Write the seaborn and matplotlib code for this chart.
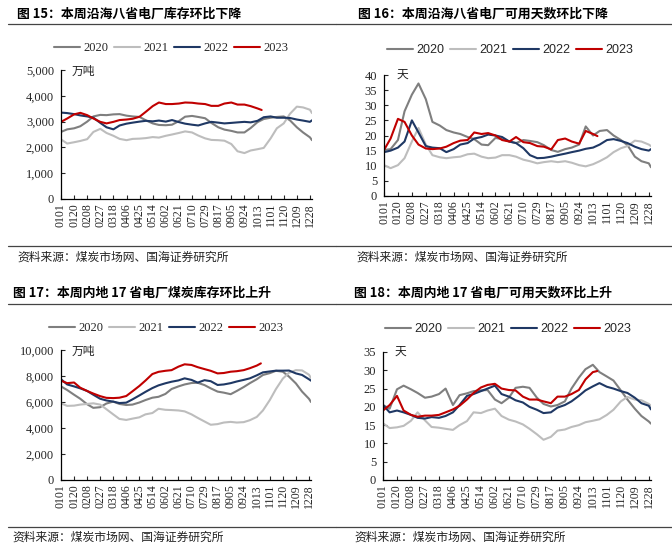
import seaborn as sns
import pandas as pd
import matplotlib.pyplot as plt
from matplotlib.lines import Line2D
from matplotlib.ticker import StrMethodFormatter

# sample dates (MMDD), roughly every 9-10 days
dates = ["0101", "0110", "0120", "0129", "0208", "0217", "0227", "0308", "0318", "0327",
         "0406", "0415", "0425", "0504", "0514", "0523", "0602", "0611", "0621", "0630",
         "0710", "0719", "0729", "0807", "0817", "0826", "0905", "0914", "0924", "1003",
         "1013", "1022", "1101", "1110", "1120", "1129", "1209", "1218", "1228", "1231"]
dates_2023 = dates[:31] + ["1019"]
tick_dates = ["0101", "0120", "0208", "0227", "0318", "0406", "0425", "0514", "0602", "0621",
              "0710", "0729", "0817", "0905", "0924", "1013", "1101", "1120", "1209", "1228"]
years = ["2020", "2021", "2022", "2023"]
colors = ["#7f7f7f", "#bdbdbd", "#1f3864", "#c00000"]

# 图15 沿海八省电厂库存 (万吨)
s15_2020 = [2600, 2700, 2740, 2820, 3000, 3200, 3260, 3250, 3280, 3290, 3230, 3200, 3180, 3050,
            2930, 2870, 2860, 2880, 3020, 3190, 3220, 3180, 3130, 2950, 2780, 2690, 2640, 2580,
            2580, 2750, 2980, 3100, 3150, 3180, 3200, 3050, 2780, 2580, 2390, 2280]
s15_2021 = [2310, 2150, 2200, 2250, 2320, 2600, 2720, 2560, 2450, 2330, 2280, 2330, 2340, 2360,
            2400, 2380, 2450, 2500, 2560, 2620, 2580, 2460, 2350, 2290, 2280, 2260, 2130, 1850,
            1780, 1880, 1930, 1980, 2350, 2740, 2930, 3300, 3580, 3550, 3460, 3330]
s15_2022 = [3350, 3330, 3290, 3240, 3200, 3150, 2950, 2780, 2700, 2850, 2920, 2960, 3000, 3030,
            3010, 3040, 3000, 3060, 2980, 2920, 2880, 2850, 2930, 2990, 2960, 2930, 2950, 2970,
            2990, 2970, 3030, 3170, 3200, 3150, 3150, 3140, 3080, 3040, 2990, 3050]
s15_2023 = [2990, 3120, 3280, 3340, 3250, 3120, 2990, 2930, 2990, 3060, 3080, 3110, 3190, 3380,
            3600, 3740, 3680, 3680, 3700, 3740, 3730, 3700, 3680, 3610, 3610, 3700, 3740, 3660,
            3660, 3600, 3510, 3450]

# 图16 沿海八省电厂可用天数 (天)
s16_2020 = [15.2, 15.5, 18.5, 28, 33.5, 37.2, 32, 24.5, 23.3, 21.8, 21, 20.5, 19.5, 18.8, 17,
            16.8, 19.2, 18.8, 18, 17.5, 18.5, 18.2, 17.8, 16.8, 15.2, 14.6, 15.5, 16, 17, 23,
            20, 21.5, 21.8, 20, 18.5, 16.8, 13, 11.5, 10.8, 9.5]
s16_2021 = [10.2, 9.2, 10.2, 12.5, 18, 22.5, 17, 13.5, 12.8, 12.5, 12.8, 13, 13.8, 14, 13,
            12.5, 12.7, 13.5, 13.5, 13, 12, 11.5, 10.8, 11.2, 11.5, 11.2, 11.5, 11, 10.2, 9.8,
            10.5, 11.5, 12.8, 14.5, 15.8, 16.5, 18.3, 18, 17, 16.5]
s16_2022 = [14.5, 15, 16, 18, 25, 21, 16.5, 16, 15.8, 14.5, 15.5, 17, 17.5, 19, 19.5, 20.3, 20,
            19.5, 18, 17.5, 15.8, 13.5, 12.5, 12.6, 13, 13.5, 14, 14.5, 15, 15.6, 16, 17, 18.5,
            18.8, 18.2, 17.5, 16.3, 15.5, 15, 15.5]
s16_2023 = [15.2, 19, 25.5, 24.5, 20, 17, 15.7, 15.5, 15.7, 16.3, 17.5, 18.3, 18.5, 21, 20.5,
            20.8, 20, 18.5, 18, 19.5, 17.8, 17.5, 16.5, 16.3, 15.4, 18.5, 19, 18, 17.3, 21.5,
            20.5, 19.8]

# 图17 内地17省电厂煤炭库存 (万吨)
s17_2020 = [7200, 6920, 6560, 6250, 5830, 5550, 5600, 5880, 6030, 5850, 5770, 5800, 5960, 6150,
            6330, 6400, 6620, 7000, 7200, 7350, 7460, 7480, 7300, 7050, 6800, 6720, 6600, 6850,
            7150, 7450, 7750, 8080, 8220, 8400, 8330, 7950, 7430, 6800, 6250, 6000]
s17_2021 = [5900, 5700, 5720, 5800, 5850, 5900, 5800, 5450, 5050, 4700, 4620, 4720, 4820, 5050,
            5150, 5480, 5400, 5380, 5350, 5280, 5050, 4780, 4500, 4250, 4300, 4420, 4470, 4420,
            4450, 4600, 4850, 5350, 6150, 7000, 7800, 8250, 8450, 8430, 8100, 7850]
s17_2022 = [7750, 7350, 7200, 7050, 6850, 6560, 6250, 6120, 6030, 5920, 5950, 6200, 6500, 6780,
            7070, 7280, 7440, 7560, 7660, 7820, 7700, 7490, 7680, 7600, 7310, 7350, 7450, 7580,
            7700, 7820, 8050, 8280, 8350, 8410, 8410, 8420, 8200, 8080, 7750, 7640]
s17_2023 = [7640, 7450, 7500, 7100, 6850, 6650, 6450, 6320, 6300, 6330, 6460, 6820, 7230, 7650,
            8150, 8320, 8400, 8450, 8720, 8900, 8850, 8680, 8530, 8400, 8200, 8230, 8330, 8370,
            8450, 8600, 8800, 8970]

# 图18 内地17省电厂可用天数 (天)
s18_2020 = [20.5, 19.5, 24.8, 25.8, 24.8, 23.8, 22.5, 22.8, 23.5, 25, 20.5, 23.2, 23.7, 24.3,
            24.5, 24.6, 22, 21, 22.5, 25.2, 25.5, 25.2, 22.5, 20.8, 20.1, 20.5, 21.5, 25, 28,
            30.3, 31.5, 29.5, 28.3, 27.2, 24.5, 22, 19.5, 17.5, 16, 15.4]
s18_2021 = [15.5, 14.2, 14.4, 14.8, 16.2, 18.5, 16.3, 14.5, 14.3, 14, 13.7, 15, 16.1, 18.5,
            18.3, 19, 19.5, 17.5, 16.5, 16, 15.2, 14, 12.5, 11, 11.8, 13.5, 13.8, 14.5, 15,
            15.8, 16.2, 16.6, 17.8, 19.2, 21.5, 22.7, 22, 21.8, 20.8, 20.3]
s18_2022 = [20.5, 18.5, 19, 18.5, 17.8, 17, 16.8, 17.2, 17, 17.5, 18.5, 20.5, 23, 23.5, 24.3,
            25, 25.8, 23.5, 22.8, 21.8, 21.2, 20, 19.2, 18.3, 18.5, 19.8, 20.5, 21.5, 23, 24.5,
            25.6, 26.5, 25.5, 25, 24.3, 23.8, 22.5, 21, 20.3, 19.3]
s18_2023 = [19, 20.5, 23, 19, 17.8, 17.3, 17.6, 17.6, 17.8, 18.5, 19.3, 20.3, 22, 23.8, 25.3,
            26, 26.3, 25, 24.6, 24.5, 22.8, 22, 22, 21.5, 21, 22.8, 22.8, 23.5, 24.6, 27.5,
            29.5, 29.8]

sns.set_theme(style="white")
plt.rcParams["font.family"] = ["Liberation Serif", "Noto Sans CJK SC"]
CJK = ["Noto Sans CJK SC", "DejaVu Sans"]

W, H = 672, 548


def doy(mmdd):
    return pd.to_datetime("2023" + mmdd, format="%Y%m%d").dayofyear - 1


def long_df(series):
    rows = []
    for yr, vals in zip(years, series):
        ds = dates_2023 if yr == "2023" else dates
        for d, v in zip(ds, vals):
            rows.append({"day": doy(d), "value": v, "year": yr})
    return pd.DataFrame(rows)


def panel(box, series, ymax, ystep, fmt, unit, unit_xy, leg_xy, leg_font):
    l, t, r, b = box
    ax = fig.add_axes([l / W, 1 - b / H, (r - l) / W, (b - t) / H])
    sns.lineplot(data=long_df(series), x="day", y="value", hue="year",
                 palette=colors, linewidth=1.5, ax=ax)
    handles, labels = ax.get_legend_handles_labels()
    ax.get_legend().remove()
    fig.legend(handles, labels, loc="center", bbox_to_anchor=(leg_xy[0] / W, 1 - leg_xy[1] / H),
               ncol=4, frameon=False, handlelength=2.1, handletextpad=0.3, columnspacing=0.4,
               prop={"family": leg_font, "size": 9})
    ax.set_xlim(0, 364)
    ax.set_ylim(0, ymax)
    ax.set_xticks([doy(d) for d in tick_dates])
    ax.set_xticklabels(tick_dates, rotation=90, fontsize=8.5)
    ax.set_yticks(range(0, ymax + 1, ystep))
    ax.yaxis.set_major_formatter(StrMethodFormatter(fmt))
    ax.tick_params(axis="y", labelsize=9, direction="in", length=3, width=0.8, pad=5, left=True)
    ax.tick_params(axis="x", direction="in", length=3, width=0.8, pad=3, bottom=True)
    ax.set_xlabel("")
    ax.set_ylabel("")
    sns.despine(ax=ax)
    for s in ["left", "bottom"]:
        ax.spines[s].set_color("black")
        ax.spines[s].set_linewidth(0.9)
    fig.text(unit_xy[0] / W, 1 - unit_xy[1] / H, unit, family=CJK, fontsize=8.5,
             va="center", ha="left", color="#222222")
    return ax


fig = plt.figure(figsize=(6.72, 5.48), dpi=100)

panel((61, 70, 312, 199), [s15_2020, s15_2021, s15_2022, s15_2023], 5000, 1000, "{x:,.0f}",
      "万吨", (72, 71), (171, 48), "Liberation Serif")
panel((384, 75, 651, 196), [s16_2020, s16_2021, s16_2022, s16_2023], 40, 5, "{x:.0f}",
      "天", (397, 74), (510, 50), "Liberation Sans")
panel((61, 350, 311, 480), [s17_2020, s17_2021, s17_2022, s17_2023], 10000, 2000, "{x:,.0f}",
      "万吨", (72, 351), (166, 328), "Liberation Serif")
panel((383, 352, 651, 480), [s18_2020, s18_2021, s18_2022, s18_2023], 35, 5, "{x:.0f}",
      "天", (395, 351), (508, 329), "Liberation Sans")

titles = [("图 15：本周沿海八省电厂库存环比下降", 17, 14),
          ("图 16：本周沿海八省电厂可用天数环比下降", 358, 14),
          ("图 17：本周内地 17 省电厂煤炭库存环比上升", 13, 293),
          ("图 18：本周内地 17 省电厂可用天数环比上升", 354, 293)]
for txt, x, y in titles:
    fig.text(x / W, 1 - y / H, txt, family=CJK, fontsize=9.3, fontweight="bold",
             va="center", ha="left", color="black")

sources = [(17, 257), (356, 257), (12, 537), (354, 537)]
for x, y in sources:
    fig.text(x / W, 1 - y / H, "资料来源：煤炭市场网、国海证券研究所", family=CJK, fontsize=8.5,
             va="center", ha="left", color="#222222")

for y in [24, 246, 304, 527]:
    for x0, x1 in [(8, 336), (336, 672)]:
        fig.add_artist(Line2D([x0 / W, x1 / W], [1 - y / H, 1 - y / H], color="#444444",
                              linewidth=0.9, transform=fig.transFigure))

fig.savefig("out.png", dpi=100)
